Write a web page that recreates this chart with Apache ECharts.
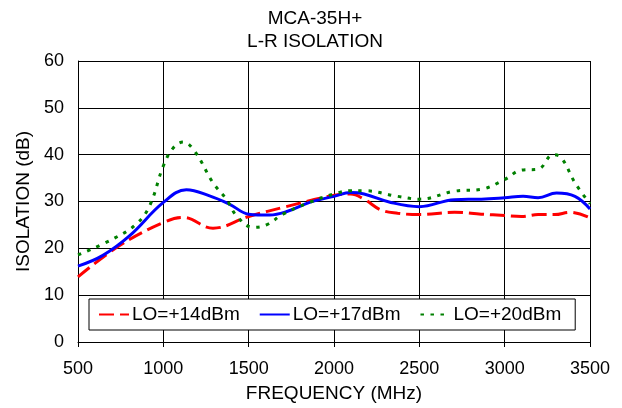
<!DOCTYPE html>
<html><head><meta charset="utf-8">
<script src="https://cdn.jsdelivr.net/npm/echarts@6/dist/echarts.min.js"></script>
<style>html,body{margin:0;padding:0;background:#fff}#c{width:622px;height:408px}</style>
</head><body><div id="c"></div>
<script>
var freq14 = [500, 744, 1000, 1115, 1291, 1500, 1720, 1994, 2098, 2176, 2275, 2373, 2500, 2706, 2863, 3000, 3098, 3196, 3294, 3382, 3500];
var lo14 = [13.9, 20.6, 25.5, 26.6, 24.3, 26.8, 28.9, 31.3, 31.6, 30.5, 28.2, 27.5, 27.2, 27.7, 27.3, 27.0, 26.8, 27.2, 27.2, 27.7, 26.5];
var freq17 = [500, 646, 803, 1000, 1135, 1271, 1389, 1500, 1623, 1720, 1857, 2000, 2098, 2176, 2333, 2500, 2706, 2863, 3000, 3108, 3196, 3304, 3412, 3500];
var lo17 = [16.2, 18.5, 22.7, 29.8, 32.5, 31.2, 29.4, 27.3, 27.1, 27.8, 29.8, 31.1, 31.9, 31.6, 29.8, 28.9, 30.4, 30.5, 30.8, 31.1, 30.8, 31.8, 31.1, 28.4];
var freq20 = [500, 705, 842, 920, 1000, 1057, 1115, 1184, 1291, 1369, 1428, 1525, 1604, 1701, 1857, 2000, 2098, 2176, 2373, 2500, 2706, 2863, 3000, 3098, 3196, 3284, 3333, 3412, 3500];
var lo20 = [18.6, 22.0, 25.2, 29.1, 37.6, 41.4, 42.7, 40.7, 34.0, 30.5, 27.0, 24.5, 25.0, 27.3, 29.8, 31.6, 32.3, 32.3, 31.1, 30.5, 32.2, 32.6, 34.7, 36.7, 36.9, 40.0, 39.3, 34.0, 29.5];
var seriesNames = ['LO=+14dBm', 'LO=+17dBm', 'LO=+20dBm'];
var titleLines = ['MCA-35H+', 'L-R ISOLATION'];

function pairs(xs, ys){ return xs.map(function(x,i){ return [x, ys[i]]; }); }
var font = 'Liberation Sans, Arial, sans-serif';
var chart = echarts.init(document.getElementById('c'), null, {renderer:'canvas'});
chart.setOption({
  animation: false,
  backgroundColor: '#fff',
  title: { text: titleLines.join('\n'), left: 310, top: 2, textAlign: 'center',
    textStyle: { fontFamily: font, fontSize: 19, fontWeight: 'normal', color: '#000', lineHeight: 23 } },
  grid: { left: 78, right: 32, top: 61, bottom: 64, show: false },
  legend: {
    left: 89, top: 299,
    backgroundColor: '#fff', borderColor: '#000', borderWidth: 1, borderRadius: 0,
    padding: [6, 14, 6, 9], itemGap: 19, itemWidth: 30, itemHeight: 14,
    itemStyle: { opacity: 0 },
    textStyle: { fontFamily: font, fontSize: 19, color: '#000', padding: [0,0,0,-2] },
    data: seriesNames
  },
  xAxis: {
    type: 'value', min: 500, max: 3500, interval: 500,
    name: 'FREQUENCY (MHz)', nameLocation: 'middle', nameGap: 42,
    nameTextStyle: { fontFamily: font, fontSize: 19, color: '#000' },
    axisLine: { show: true, lineStyle: { color: '#000', width: 1 } },
    axisTick: { show: true, length: 5, lineStyle: { color: '#000' } },
    axisLabel: { fontFamily: font, fontSize: 18, color: '#000', margin: 18,
      formatter: function(v){ return String(v); } },
    splitLine: { show: true, lineStyle: { color: '#000', width: 1 } }
  },
  yAxis: {
    type: 'value', min: 0, max: 60, interval: 10,
    name: 'ISOLATION (dB)', nameLocation: 'middle', nameGap: 44,
    nameTextStyle: { fontFamily: font, fontSize: 19, color: '#000' },
    axisLine: { show: true, lineStyle: { color: '#000', width: 1 } },
    axisTick: { show: false },
    axisLabel: { fontFamily: font, fontSize: 18, color: '#000', margin: 14 },
    splitLine: { show: true, lineStyle: { color: '#000', width: 1 } }
  },
  series: [
    { name: seriesNames[0], type: 'line', smooth: 0.4, symbol: 'none', data: pairs(freq14, lo14),
      itemStyle: { color: '#ff0000' }, lineStyle: { color: '#ff0000', width: 3, type: [15, 6] } },
    { name: seriesNames[1], type: 'line', smooth: 0.4, symbol: 'none', data: pairs(freq17, lo17),
      itemStyle: { color: '#0000ff' }, lineStyle: { color: '#0000ff', width: 3 } },
    { name: seriesNames[2], type: 'line', smooth: 0.4, symbol: 'none', data: pairs(freq20, lo20),
      itemStyle: { color: '#008000' }, lineStyle: { color: '#008000', width: 3, type: [3.5, 6.5] } }
  ]
});
</script></body></html>
